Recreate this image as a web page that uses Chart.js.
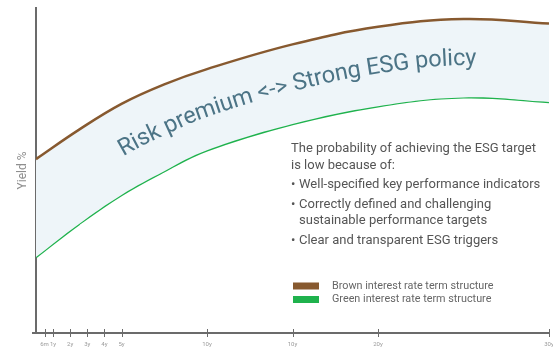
<!DOCTYPE html>
<html>
<head>
<meta charset="utf-8">
<script src="https://cdn.jsdelivr.net/npm/chart.js@4/dist/chart.umd.min.js"></script>
<style>
  html, body { margin: 0; padding: 0; background: #ffffff; overflow: hidden; }
  #wrap { width: 553px; height: 351px; }
</style>
</head>
<body>
<div id="wrap"><canvas id="c" width="553" height="351"></canvas></div>
<script>
// Maturity (years) and yields (%) for the two term structures
const maturities = [0, 2.5, 5, 7.5, 10, 15, 20, 25, 30];
const brownYield = [5.35, 6.25, 7.05, 7.65, 8.12, 8.88, 9.42, 9.66, 9.52];
const greenYield = [2.34, 3.35, 4.25, 4.98, 5.62, 6.43, 6.98, 7.25, 7.11];

// Maturity ticks on the time axis
const tickYears = [0.5, 1, 2, 3, 4, 5, 10, 15, 20, 30];
const tickLabels = ['6m', '1y', '2y', '3y', '4y', '5y', '10y', '10y', '20y', '30y'];

const seriesLabels = ['Brown interest rate term structure', 'Green interest rate term structure'];
const bandLabel = 'Risk premium <-> Strong ESG policy';
const noteLines = [
  { text: 'The probability of achieving the ESG target', bullet: false },
  { text: 'is low because of:', bullet: false },
  { text: 'Well-specified key performance indicators', bullet: true },
  { text: 'Correctly defined and challenging', bullet: true },
  { text: 'sustainable performance targets', bullet: false, indent: true },
  { text: 'Clear and transparent ESG triggers', bullet: true }
];

const BROWN = '#87592f';
const GREEN = '#1fb24d';
const BAND = '#eef5f9';
const AXIS = '#6b6b6b';
const FONT = 'Roboto, "Noto Sans", sans-serif';

// y on a drawn (bezier) line for a given pixel x
function curveYAt(points, px) {
  for (let i = 0; i < points.length - 1; i++) {
    const a = points[i], b = points[i + 1];
    if (px >= a.x && px <= b.x) {
      const p0x = a.x, p1x = a.cp2x ?? a.x, p2x = b.cp1x ?? b.x, p3x = b.x;
      const p0y = a.y, p1y = a.cp2y ?? a.y, p2y = b.cp1y ?? b.y, p3y = b.y;
      let lo = 0, hi = 1, t = 0.5;
      for (let k = 0; k < 40; k++) {
        t = (lo + hi) / 2;
        const mt = 1 - t;
        const x = mt*mt*mt*p0x + 3*mt*mt*t*p1x + 3*mt*t*t*p2x + t*t*t*p3x;
        if (x < px) lo = t; else hi = t;
      }
      const mt = 1 - t;
      return mt*mt*mt*p0y + 3*mt*mt*t*p1y + 3*mt*t*t*p2y + t*t*t*p3y;
    }
  }
  return points[points.length - 1].y;
}

// Label written along the middle of the band between the two curves
const bandTextPlugin = {
  id: 'bandText',
  afterDatasetsDraw(chart) {
    const a = chart.getDatasetMeta(0).data;
    const b = chart.getDatasetMeta(1).data;
    const area = chart.chartArea;
    const pts = [];
    for (let x = area.left; x <= area.right; x += 1) {
      pts.push({ x, y: (curveYAt(a, x) + curveYAt(b, x)) / 2 });
    }
    const acc = [0];
    for (let i = 1; i < pts.length; i++) {
      acc.push(acc[i - 1] + Math.hypot(pts[i].x - pts[i - 1].x, pts[i].y - pts[i - 1].y));
    }
    function at(s) {
      let i = 1;
      while (i < acc.length - 1 && acc[i] < s) i++;
      const p = pts[i - 1], q = pts[i];
      const f = (s - acc[i - 1]) / ((acc[i] - acc[i - 1]) || 1);
      return { x: p.x + (q.x - p.x) * f, y: p.y + (q.y - p.y) * f, ang: Math.atan2(q.y - p.y, q.x - p.x) };
    }
    const ctx = chart.ctx;
    ctx.save();
    ctx.font = '23.5px ' + FONT;
    ctx.fillStyle = '#4c7486';
    ctx.textAlign = 'center';
    ctx.textBaseline = 'middle';
    let s = acc[Math.round(120 - area.left)];
    for (const ch of bandLabel) {
      const w = ctx.measureText(ch).width;
      const p = at(s + w / 2);
      ctx.save();
      ctx.translate(p.x, p.y);
      ctx.rotate(p.ang);
      ctx.fillText(ch, 0, 1);
      ctx.restore();
      s += w;
    }
    ctx.restore();
  }
};

// Explanatory note and the series key
const notesPlugin = {
  id: 'notes',
  afterDraw(chart) {
    const ctx = chart.ctx;
    ctx.save();
    ctx.fillStyle = '#555555';
    ctx.font = '13px ' + FONT;
    ctx.textBaseline = 'middle';
    const ys = [149, 166, 185, 205, 221, 241];
    noteLines.forEach((ln, i) => {
      const x = 291;
      if (ln.bullet) {
        ctx.fillText('•', x, ys[i]);
        ctx.fillText(ln.text, x + 8, ys[i]);
      } else if (ln.indent) {
        ctx.fillText(ln.text, x + 8, ys[i]);
      } else {
        ctx.fillText(ln.text, x, ys[i]);
      }
    });
    const colors = [BROWN, GREEN];
    ctx.font = '10.8px ' + FONT;
    seriesLabels.forEach((lab, i) => {
      const y = 286 + i * 13.5;
      ctx.fillStyle = colors[i];
      ctx.fillRect(293, y - 3.5, 26, 7);
      ctx.fillStyle = '#666666';
      ctx.fillText(lab, 332, y);
    });
    ctx.restore();
  }
};

// Tick marks crossing the time axis, and the axis stub left of the origin
const axisMarksPlugin = {
  id: 'axisMarks',
  afterDraw(chart) {
    const xs = chart.scales.x;
    const area = chart.chartArea;
    const ctx = chart.ctx;
    ctx.save();
    ctx.strokeStyle = AXIS;
    ctx.lineWidth = 1;
    ctx.beginPath();
    xs.ticks.forEach((t, i) => {
      const px = Math.round(xs.getPixelForTick(i)) + 0.5;
      ctx.moveTo(px, area.bottom - 4);
      ctx.lineTo(px, area.bottom + 4);
    });
    ctx.stroke();
    ctx.lineWidth = 2;
    ctx.beginPath();
    ctx.moveTo(area.left - 4, area.bottom);
    ctx.lineTo(area.left, area.bottom);
    ctx.stroke();
    ctx.restore();
  }
};

new Chart(document.getElementById('c'), {
  type: 'line',
  data: {
    datasets: [
      {
        label: seriesLabels[0],
        data: maturities.map((m, i) => ({ x: m, y: brownYield[i] })),
        borderColor: BROWN,
        borderWidth: 2.5,
        backgroundColor: BAND,
        fill: '+1',
        pointRadius: 0,
        tension: 0.4
      },
      {
        label: seriesLabels[1],
        data: maturities.map((m, i) => ({ x: m, y: greenYield[i] })),
        borderColor: GREEN,
        borderWidth: 2.5,
        fill: false,
        pointRadius: 0,
        tension: 0.4
      }
    ]
  },
  options: {
    responsive: false,
    animation: false,
    devicePixelRatio: 1,
    layout: { padding: { top: 8, right: 4, left: 0, bottom: 0 } },
    plugins: { legend: { display: false }, tooltip: { enabled: false } },
    scales: {
      x: {
        type: 'linear',
        min: 0,
        max: 30,
        afterBuildTicks: (s) => { s.ticks = tickYears.map(v => ({ value: v })); },
        afterFit: (s) => { s.height = 18; s.paddingLeft = 0; s.paddingRight = 0; },
        grid: { display: false, drawTicks: false },
        border: { display: true, color: AXIS, width: 2 },
        ticks: {
          autoSkip: false,
          maxRotation: 0,
          minRotation: 0,
          padding: 8,
          color: '#9a9a9a',
          font: { family: FONT, size: 6 },
          callback: (v) => { const i = tickYears.indexOf(v); return i >= 0 ? tickLabels[i] : ''; }
        }
      },
      y: {
        min: 0,
        max: 10,
        afterFit: (s) => { s.width = 36; },
        grid: { display: false, drawTicks: false },
        border: { display: true, color: AXIS, width: 2 },
        ticks: { display: false },
        title: {
          display: true,
          text: 'Yield %',
          color: '#8f8f8f',
          font: { family: FONT, size: 12 },
          padding: { top: 16, bottom: 0 }
        }
      }
    }
  },
  plugins: [bandTextPlugin, notesPlugin, axisMarksPlugin]
});
</script>
</body>
</html>
